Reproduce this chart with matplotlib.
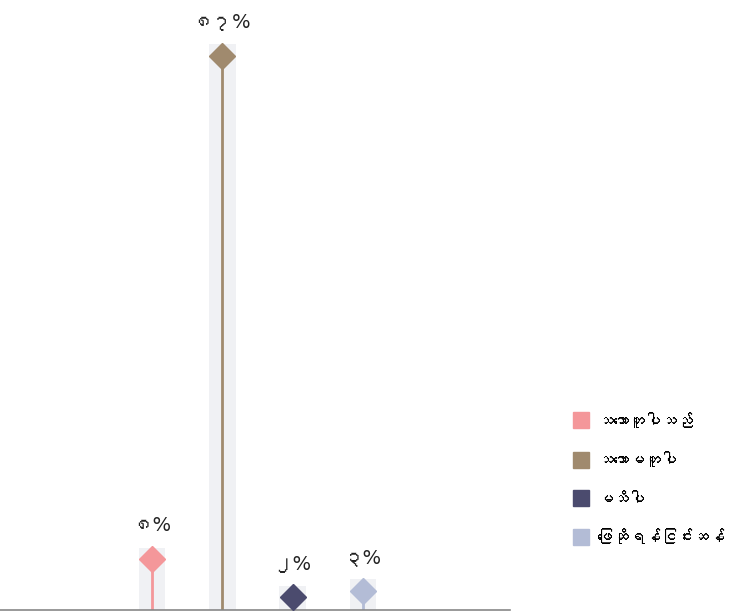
import matplotlib
matplotlib.use("Agg")
import matplotlib.pyplot as plt
from matplotlib import font_manager
from matplotlib.ft2font import FT2Font
from matplotlib.lines import Line2D

categories = ["သဘောတူပါသည်", "သဘောမတူပါ", "မသိပါ", "ဖြေဆိုရန်ငြင်းဆန်"]
values = [8, 87, 2, 3]
value_labels = ["၈%", "၈၇%", "၂%", "၃%"]
colors = ["#f4979a", "#a08a6e", "#4b4b6e", "#b3bcd6"]

# find a font that covers Myanmar script, if any
myanmar_family = None
for path in sorted(font_manager.findSystemFonts()):
    try:
        f = FT2Font(path)
        cmap = f.get_charmap()
        if 0x101E in cmap and 0x1031 in cmap:
            font_manager.fontManager.addfont(path)
            myanmar_family = font_manager.FontProperties(fname=path).get_name()
            break
    except Exception:
        pass
families = ["DejaVu Sans"] + ([myanmar_family] if myanmar_family else [])
plt.rcParams["font.family"] = families

fig = plt.figure(figsize=(7.41, 6.14), dpi=100)
ax = fig.add_axes([0, 4 / 614, 510 / 741, 606 / 614])

x = list(range(len(values)))
pad = 1.8
ax.bar(x, [v + pad for v in values], width=0.38, color="#f0f1f4", zorder=1)
for xi, v, c, lab in zip(x, values, colors, value_labels):
    ax.plot([xi, xi], [0, v], color=c, lw=2, zorder=2)
    ax.plot([xi], [v], marker="D", markersize=13, color=c, zorder=3)
    ax.text(xi, v + pad + 2.0, lab, ha="center", va="bottom", fontsize=14, color="#222222")

ax.set_xlim(-2.161, 5.09)
ax.set_ylim(0, 95.1)
for s in ["top", "right", "left"]:
    ax.spines[s].set_visible(False)
ax.spines["bottom"].set_color("#888888")
ax.spines["bottom"].set_linewidth(1.2)
ax.set_xticks([])
ax.set_yticks([])
ax.patch.set_alpha(0)

handles = [Line2D([], [], marker="s", linestyle="none", markersize=12,
                  markerfacecolor=c, markeredgecolor=c) for c in colors]
fig.legend(handles, categories, loc="upper left", bbox_to_anchor=(573 / 741, 1 - 413 / 614),
           frameon=False, fontsize=11.5, handletextpad=0.5, labelspacing=1.45,
           handlelength=1.0, borderaxespad=0, borderpad=0)

fig.savefig("out.png", dpi=100)
